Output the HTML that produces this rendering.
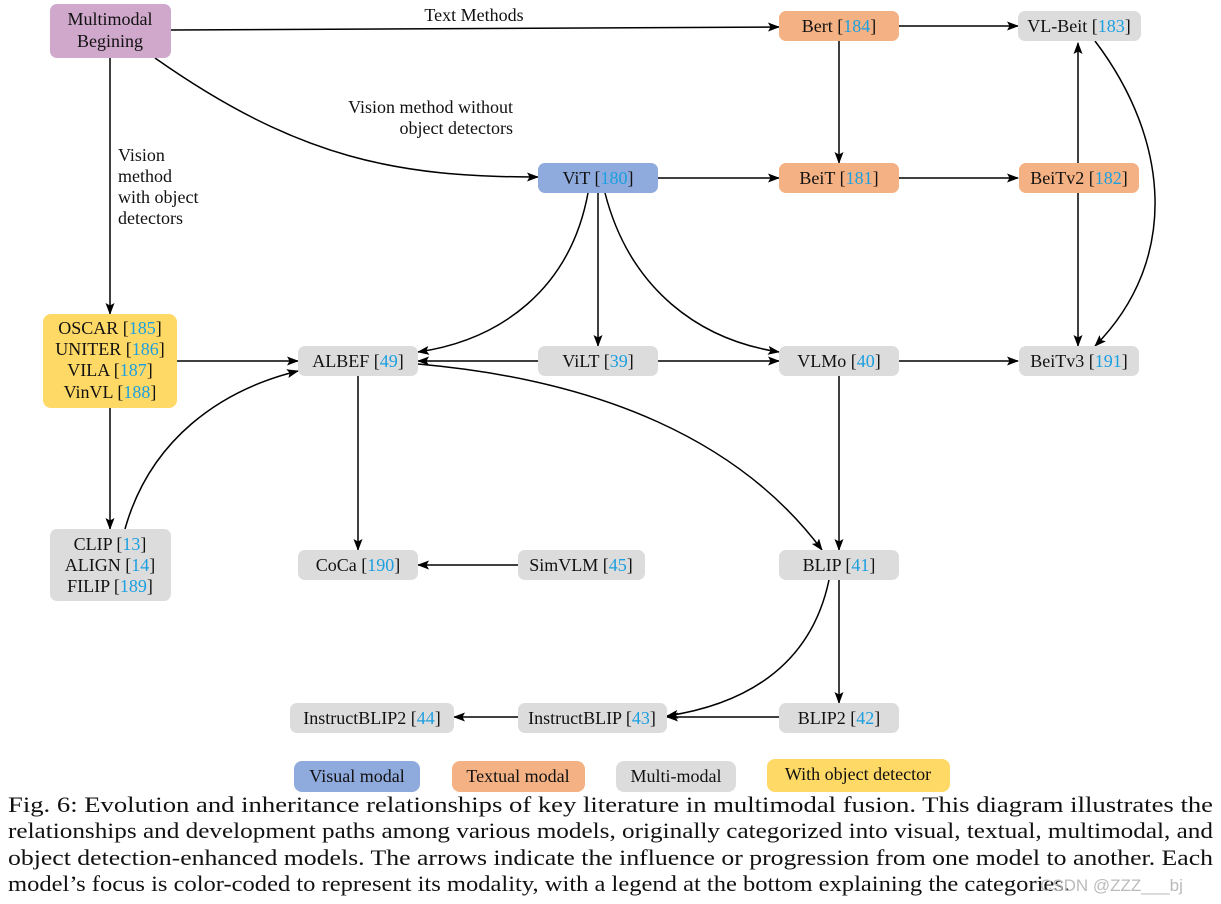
<!DOCTYPE html>
<html><head><meta charset="utf-8"><style>
html,body{margin:0;padding:0;background:#fff;}
svg{display:block;}
text{font-family:"Liberation Serif",serif;font-size:18px;fill:#111;}
.c{fill:#1a9fe0;}
.cap{font-size:22px;}
</style></head><body>
<svg width="1221" height="904" viewBox="0 0 1221 904" xmlns="http://www.w3.org/2000/svg">
<defs><marker id="a" markerWidth="12" markerHeight="9" refX="11" refY="4.5" orient="auto" markerUnits="userSpaceOnUse"><path d="M0,0 L12,4.5 L0,9 L2.5,4.5 z" fill="#000"/></marker></defs>
<g fill="none" stroke="#000" stroke-width="1.5" marker-end="url(#a)">
<path d="M171,30 L779,27"/>
<path d="M155,58 C300,160 400,177 538,177"/>
<path d="M110,58 L110,314"/>
<path d="M839,41 L839,163"/>
<path d="M899,26 L1018,26"/>
<path d="M658,178 L779,178"/>
<path d="M899,178 L1018,178"/>
<path d="M1078,163 L1078,43"/>
<path d="M1095,41 C1170,140 1180,260 1095,346"/>
<path d="M1078,193 L1078,346"/>
<path d="M588,193 C570,290 500,340 418,352"/>
<path d="M598,193 L598,346"/>
<path d="M605,193 C630,290 700,340 779,352"/>
<path d="M177,361 L298,361"/>
<path d="M538,361 L418,361"/>
<path d="M658,361 L779,361"/>
<path d="M899,361 L1018,361"/>
<path d="M418,364 C600,380 740,440 822,550"/>
<path d="M358,376 L358,550"/>
<path d="M110,408 L110,529"/>
<path d="M125,529 C150,440 220,390 298,371"/>
<path d="M518,565 L418,565"/>
<path d="M839,376 L839,550"/>
<path d="M829,580 C810,670 740,705 667,716"/>
<path d="M839,580 L839,703"/>
<path d="M779,717 L667,717"/>
<path d="M518,717 L454,717"/>
</g>
<g>
<rect x="50" y="4" width="121" height="54" rx="7" fill="#cfa8cb"/>
<rect x="779" y="11" width="120" height="30" rx="7" fill="#f4b183"/>
<rect x="1018" y="11" width="123" height="30" rx="7" fill="#dcdcdc"/>
<rect x="538" y="163" width="120" height="30" rx="7" fill="#8faadc"/>
<rect x="779" y="163" width="120" height="30" rx="7" fill="#f4b183"/>
<rect x="1019" y="163" width="120" height="30" rx="7" fill="#f4b183"/>
<rect x="43" y="314" width="134" height="94" rx="8" fill="#ffd966"/>
<rect x="298" y="346" width="120" height="30" rx="7" fill="#dcdcdc"/>
<rect x="538" y="346" width="120" height="30" rx="7" fill="#dcdcdc"/>
<rect x="779" y="346" width="120" height="30" rx="7" fill="#dcdcdc"/>
<rect x="1019" y="346" width="120" height="30" rx="7" fill="#dcdcdc"/>
<rect x="50" y="529" width="121" height="72" rx="7" fill="#dcdcdc"/>
<rect x="298" y="550" width="120" height="30" rx="7" fill="#dcdcdc"/>
<rect x="518" y="550" width="127" height="30" rx="7" fill="#dcdcdc"/>
<rect x="779" y="550" width="120" height="30" rx="7" fill="#dcdcdc"/>
<rect x="290" y="703" width="164" height="30" rx="7" fill="#dcdcdc"/>
<rect x="518" y="703" width="149" height="30" rx="7" fill="#dcdcdc"/>
<rect x="779" y="703" width="120" height="30" rx="7" fill="#dcdcdc"/>
<rect x="294" y="761" width="126" height="31" rx="8" fill="#8faadc"/>
<rect x="452" y="761" width="133" height="31" rx="8" fill="#f4b183"/>
<rect x="616" y="761" width="120" height="31" rx="8" fill="#dcdcdc"/>
<rect x="767" y="759" width="183" height="33" rx="8" fill="#ffd966"/>
</g>
<g text-anchor="middle">
<text x="110" y="25">Multimodal</text><text x="110" y="47">Begining</text>
<text x="839" y="32">Bert [<tspan class="c">184</tspan>]</text>
<text x="1079" y="32">VL-Beit [<tspan class="c">183</tspan>]</text>
<text x="598" y="184">ViT [<tspan class="c">180</tspan>]</text>
<text x="839" y="184">BeiT [<tspan class="c">181</tspan>]</text>
<text x="1079" y="184">BeiTv2 [<tspan class="c">182</tspan>]</text>
<text x="110" y="334">OSCAR [<tspan class="c">185</tspan>]</text>
<text x="110" y="355">UNITER [<tspan class="c">186</tspan>]</text>
<text x="110" y="376">VILA [<tspan class="c">187</tspan>]</text>
<text x="110" y="398">VinVL [<tspan class="c">188</tspan>]</text>
<text x="358" y="367">ALBEF [<tspan class="c">49</tspan>]</text>
<text x="598" y="367">ViLT [<tspan class="c">39</tspan>]</text>
<text x="839" y="367">VLMo [<tspan class="c">40</tspan>]</text>
<text x="1079" y="367">BeiTv3 [<tspan class="c">191</tspan>]</text>
<text x="110" y="550">CLIP [<tspan class="c">13</tspan>]</text>
<text x="110" y="571">ALIGN [<tspan class="c">14</tspan>]</text>
<text x="110" y="592">FILIP [<tspan class="c">189</tspan>]</text>
<text x="358" y="571">CoCa [<tspan class="c">190</tspan>]</text>
<text x="581" y="571">SimVLM [<tspan class="c">45</tspan>]</text>
<text x="839" y="571">BLIP [<tspan class="c">41</tspan>]</text>
<text x="372" y="724">InstructBLIP2 [<tspan class="c">44</tspan>]</text>
<text x="592" y="724">InstructBLIP [<tspan class="c">43</tspan>]</text>
<text x="839" y="724">BLIP2 [<tspan class="c">42</tspan>]</text>
<text x="357" y="782">Visual modal</text>
<text x="518" y="782">Textual modal</text>
<text x="676" y="782">Multi-modal</text>
<text x="858" y="780">With object detector</text>
<text x="474" y="21">Text Methods</text>
</g>
<g text-anchor="end">
<text x="513" y="113">Vision method without</text>
<text x="513" y="134">object detectors</text>
</g>
<text x="118" y="161">Vision</text>
<text x="118" y="182">method</text>
<text x="118" y="203">with object</text>
<text x="118" y="224">detectors</text>
<text class="cap" x="8" y="812" textLength="1205" lengthAdjust="spacingAndGlyphs">Fig. 6: Evolution and inheritance relationships of key literature in multimodal fusion. This diagram illustrates the</text>
<text class="cap" x="8" y="838" textLength="1205" lengthAdjust="spacingAndGlyphs">relationships and development paths among various models, originally categorized into visual, textual, multimodal, and</text>
<text class="cap" x="8" y="865" textLength="1205" lengthAdjust="spacingAndGlyphs">object detection-enhanced models. The arrows indicate the influence or progression from one model to another. Each</text>
<text class="cap" x="8" y="891" textLength="1062" lengthAdjust="spacingAndGlyphs">model’s focus is color-coded to represent its modality, with a legend at the bottom explaining the categories.</text>
<text x="1040" y="891" style="font-family:'Liberation Sans',sans-serif;font-size:17px;fill:#bbb;">CSDN @ZZZ___bj</text>
</svg>
</body></html>
